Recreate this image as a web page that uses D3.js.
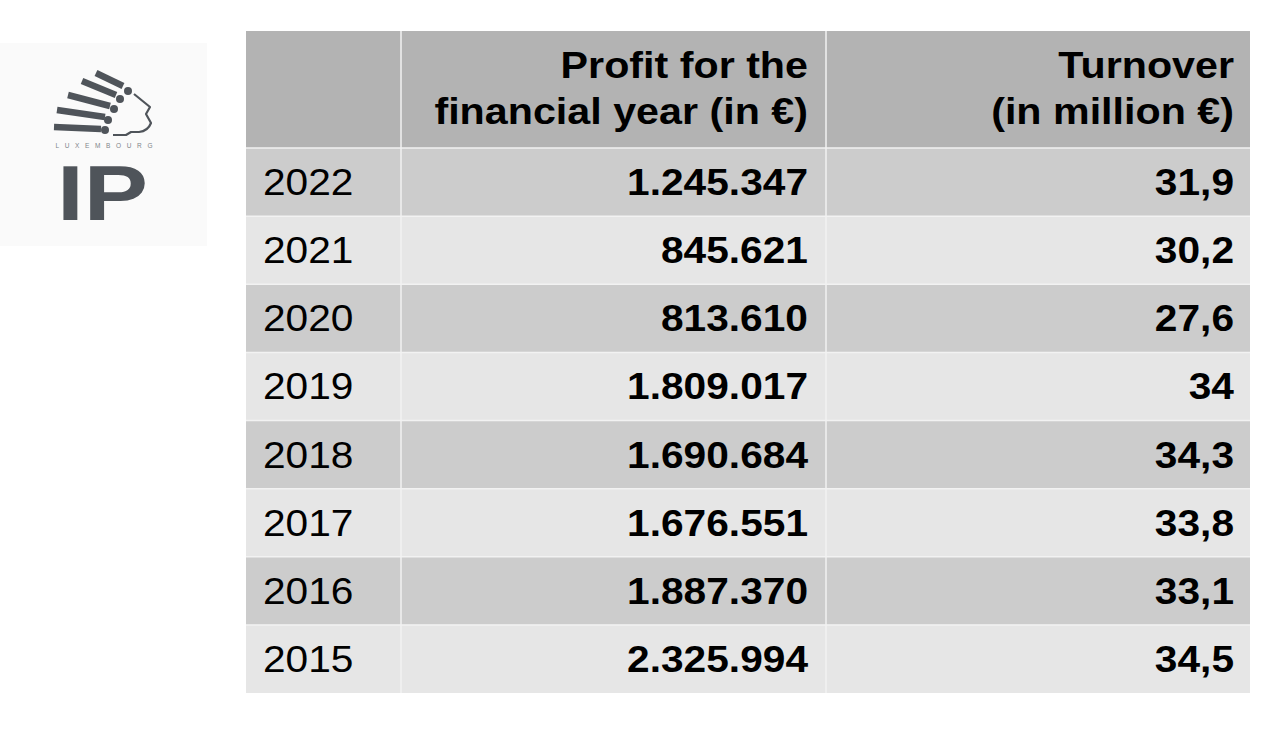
<!DOCTYPE html>
<html>
<head>
<meta charset="utf-8">
<script src="https://cdn.jsdelivr.net/npm/d3@7"></script>
<style>
  html, body { margin: 0; padding: 0; background: #fff; }
  svg { display: block; font-family: "Liberation Sans", Arial, sans-serif; }
</style>
</head>
<body>
<div id="content"></div>
<script>
// table data, newest year first
const years = [2022, 2021, 2020, 2019, 2018, 2017, 2016, 2015];
const profit = [1245347, 845621, 813610, 1809017, 1690684, 1676551, 1887370, 2325994];
const turnover = [31.9, 30.2, 27.6, 34, 34.3, 33.8, 33.1, 34.5];
const headers = [
  [],
  ['Profit for the', 'financial year (in €)'],
  ['Turnover', '(in million €)']
];

const width = 1280, height = 742;
const euro = d3.formatLocale({ decimal: ',', thousands: '.', grouping: [3], currency: ['', ' €'] });
const fmtProfit = euro.format(',.0f');
const fmtTurn = euro.format('.1~f');

const svg = d3.select('#content').append('svg')
  .attr('width', width).attr('height', height)
  .attr('viewBox', [0, 0, width, height]);

// column edges and row band
const colEdges = [246, 401, 826, 1250];
const headTop = 31, headBottom = 148, tableBottom = 693;
const y = d3.scaleBand().domain(years).range([headBottom, tableBottom]);

const headFill = '#b3b3b3';
const rowFill = ['#cccccc', '#e6e6e6'];
const stretch = 1.13; // the text in the source is a bit wide

// text helper, horizontally stretched
function label (g, x, yy, str, size, bold, anchor) {
  return g.append('text')
    .attr('transform', `translate(${x},${yy}) scale(${stretch},1)`)
    .attr('text-anchor', anchor || 'start')
    .style('font-size', size + 'px')
    .style('font-weight', bold ? 'bold' : 'normal')
    .style('fill', '#000')
    .text(str);
}

// header
const head = svg.append('g');
headers.forEach((lines, c) => {
  head.append('rect')
    .attr('x', colEdges[c]).attr('y', headTop)
    .attr('width', colEdges[c + 1] - colEdges[c]).attr('height', headBottom - headTop)
    .attr('fill', headFill);
  lines.forEach((t, i) => {
    label(head, colEdges[c + 1] - (c === 2 ? 16 : 18), headTop + 47 + i * 46, t, 36.5, true, 'end');
  });
});

// body rows
const rows = svg.append('g').selectAll('g').data(years).join('g')
  .attr('transform', d => `translate(0,${y(d)})`);

rows.each(function (d, i) {
  const g = d3.select(this);
  for (let c = 0; c < 3; c++) {
    g.append('rect')
      .attr('x', colEdges[c]).attr('y', 0)
      .attr('width', colEdges[c + 1] - colEdges[c]).attr('height', y.bandwidth())
      .attr('fill', rowFill[i % 2]);
  }
  const base = y.bandwidth() / 2 + 13;
  label(g, colEdges[0] + 17, base, d, 36, false);
  label(g, colEdges[2] - 18, base, fmtProfit(profit[i]), 36, true, 'end');
  label(g, colEdges[3] - 16, base, fmtTurn(turnover[i]), 36, true, 'end');
});

// thin white cell borders
const grid = svg.append('g').attr('stroke', '#f2f2f2').attr('stroke-width', 1.5);
colEdges.slice(1, 3).forEach(x => {
  grid.append('line').attr('x1', x).attr('x2', x).attr('y1', headTop).attr('y2', tableBottom);
});
[headBottom, ...years.slice(1).map(d => y(d))].forEach(yy => {
  grid.append('line').attr('x1', colEdges[0]).attr('x2', colEdges[3]).attr('y1', yy).attr('y2', yy);
});

// logo (Luxembourg IP), on its faint off-white tile
svg.append('rect').attr('x', 0).attr('y', 43).attr('width', 207).attr('height', 203).attr('fill', '#fafafa');
const logoColor = '#4f545a';
const logo = svg.append('g').attr('fill', logoColor).attr('stroke', logoColor);
const stripes = [
  [[96, 73], [123, 86], [128, 91]],
  [[82, 81], [116, 95], [120, 99]],
  [[68, 95], [110, 106], [114, 109]],
  [[57, 110], [105, 117], [108, 120]],
  [[54, 127], [101, 129], [105, 130]]
];
stripes.forEach(([a, b, dot]) => {
  logo.append('line')
    .attr('x1', a[0]).attr('y1', a[1]).attr('x2', b[0]).attr('y2', b[1])
    .attr('stroke-width', 6.5);
  logo.append('circle').attr('cx', dot[0]).attr('cy', dot[1]).attr('r', 4).attr('stroke', 'none');
});
logo.append('path')
  .attr('d', 'M134,94 L150,107 L146,114 L151,123 Q148,131 139,132 L131,132 L126,135 L113,135')
  .attr('fill', 'none').attr('stroke-width', 2.2).attr('stroke-linejoin', 'round');
logo.append('text')
  .attr('x', 104).attr('y', 148)
  .attr('text-anchor', 'middle').attr('stroke', 'none')
  .attr('textLength', 97).attr('lengthAdjust', 'spacing')
  .style('font-size', '6.5px').style('fill', '#80858a')
  .text('LUXEMBOURG');
logo.append('text')
  .attr('x', 57).attr('y', 220).attr('stroke', 'none')
  .attr('textLength', 91).attr('lengthAdjust', 'spacingAndGlyphs')
  .style('font-size', '77px').style('font-weight', 'bold')
  .text('IP');
</script>
</body>
</html>
